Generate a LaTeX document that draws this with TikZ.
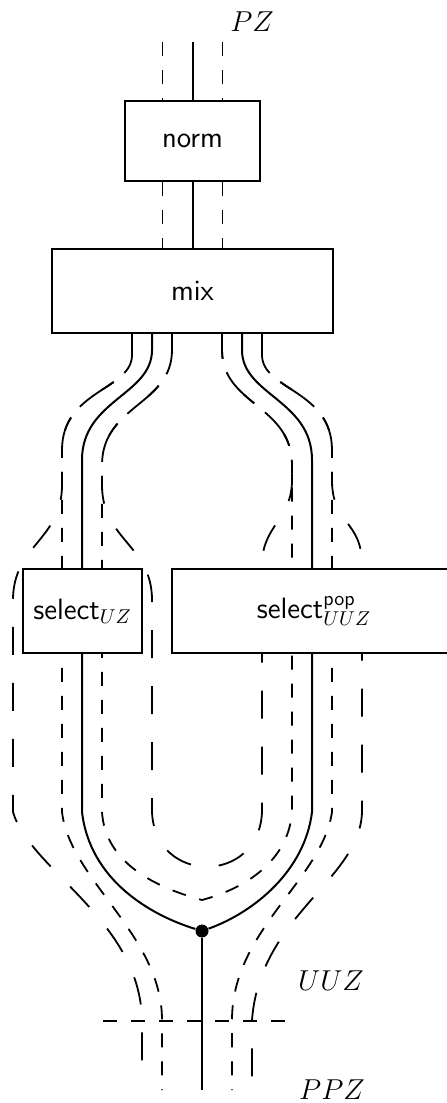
\documentclass[tikz,border=0pt]{standalone}
\usetikzlibrary{backgrounds}

\begin{document}
\begin{tikzpicture}[x=0.5pt, y=-0.5pt,
  box/.style={draw, fill=white, line width=1pt, inner sep=0pt,
    minimum height=42pt, font=\fontsize{14.7}{17}\selectfont\sffamily},
  lbl/.style={font=\fontsize{14.5}{17}\selectfont},
  wire/.style={line width=1pt},
  dwire/.style={line width=0.9pt, dash pattern=on 7pt off 7pt},
  lwire/.style={line width=0.9pt, dash pattern=on 14pt off 14pt},
  blob/.style={circle, fill=black, inner sep=0pt, minimum size=6.5pt}
]
  \useasboundingbox (0,0) rectangle (446,1103);

  \node[box, minimum width=67.75pt, minimum height=40.25pt] (norm) at (192.5,141) {norm};
  \node[box, minimum width=140.5pt] (mix) at (192.5,291) {mix};
  \node[box, minimum width=59.5pt] (selUZ) at (82.5,611) {select$_{UZ}$};
  \node[box, minimum width=142pt] (selUUZ) at (314,611) {select$^{\mathsf{pop}}_{UUZ}$};
  \node[blob] (join) at (202,931) {};

  \node[lbl] (pz) at (252,22) {$PZ$};
  \node[lbl] (uuz) at (331,981) {$UUZ$};
  \node[lbl] (ppz) at (332,1090) {$PPZ$};

  \coordinate (top) at (192.5,42);
  \coordinate (bottom) at (202,1090);
  \coordinate (mixL) at (152,333);
  \coordinate (mixR) at (242,333);
  \coordinate (cutL) at (103,1021);
  \coordinate (cutR) at (285,1021);

  \begin{scope}[on background layer]
    % solid wires
    \draw[wire] (top) -- (norm) -- (mix);
    \draw[wire] (mixL) -- (152,350) .. controls (152,395) and (82,400) .. (82,460)
      -- (82,812) .. controls (90,880) and (150,915) .. (join);
    \draw[wire] (mixR) -- (242,350) .. controls (242,395) and (312,400) .. (312,460)
      -- (312,812) .. controls (305,870) and (255,912) .. (join);
    \draw[wire] (join) -- (bottom);

    % short dashes
    \draw[dwire] ([xshift=-15pt]top) -- ([xshift=-15pt]mix.north);
    \draw[dwire] ([xshift=15pt]top) -- ([xshift=15pt]mix.north);
    \draw[dwire] (132,333) -- (132,355) .. controls (132,390) and (62,390) .. (62,450)
      -- (62,812) .. controls (70,880) and (162,935) .. (162,1020) -- (162,1090);
    \draw[dwire] (172,333) -- (172,350) .. controls (172,405) and (102,405) .. (102,465)
      -- (102,812) .. controls (105,860) and (150,886) .. (202,900)
      .. controls (254,886) and (289,855) .. (292,812)
      -- (292,465) .. controls (292,405) and (222,405) .. (222,350) -- (222,333);
    \draw[dwire] (262,333) -- (262,355) .. controls (262,390) and (332,390) .. (332,450)
      -- (332,812) .. controls (322,880) and (232,930) .. (232,1020) -- (232,1090);

    % long dashes
    \draw[lwire] (132,333) -- (132,355) .. controls (132,390) and (62,390) .. (62,450)
      -- (62,485) .. controls (62,540) and (13,545) .. (13,600)
      -- (13,812) .. controls (30,870) and (140,920) .. (142,1020) -- (142,1078);
    \draw[lwire] (172,333) -- (172,350) .. controls (172,405) and (102,405) .. (102,465)
      -- (102,485) .. controls (102,540) and (152,545) .. (152,600)
      -- (152,812) .. controls (155,885) and (259,885) .. (262,812)
      -- (262,565) .. controls (262,525) and (292,520) .. (292,480)
      -- (292,465) .. controls (292,405) and (222,405) .. (222,350) -- (222,333);
    \draw[lwire] (262,333) -- (262,355) .. controls (262,390) and (332,390) .. (332,450)
      -- (332,480) .. controls (332,525) and (362,520) .. (362,565)
      -- (362,812) .. controls (360,880) and (260,915) .. (252,1020) -- (252,1078);

    \draw[dwire] (cutL) -- (cutR);
  \end{scope}
\end{tikzpicture}
\end{document}
